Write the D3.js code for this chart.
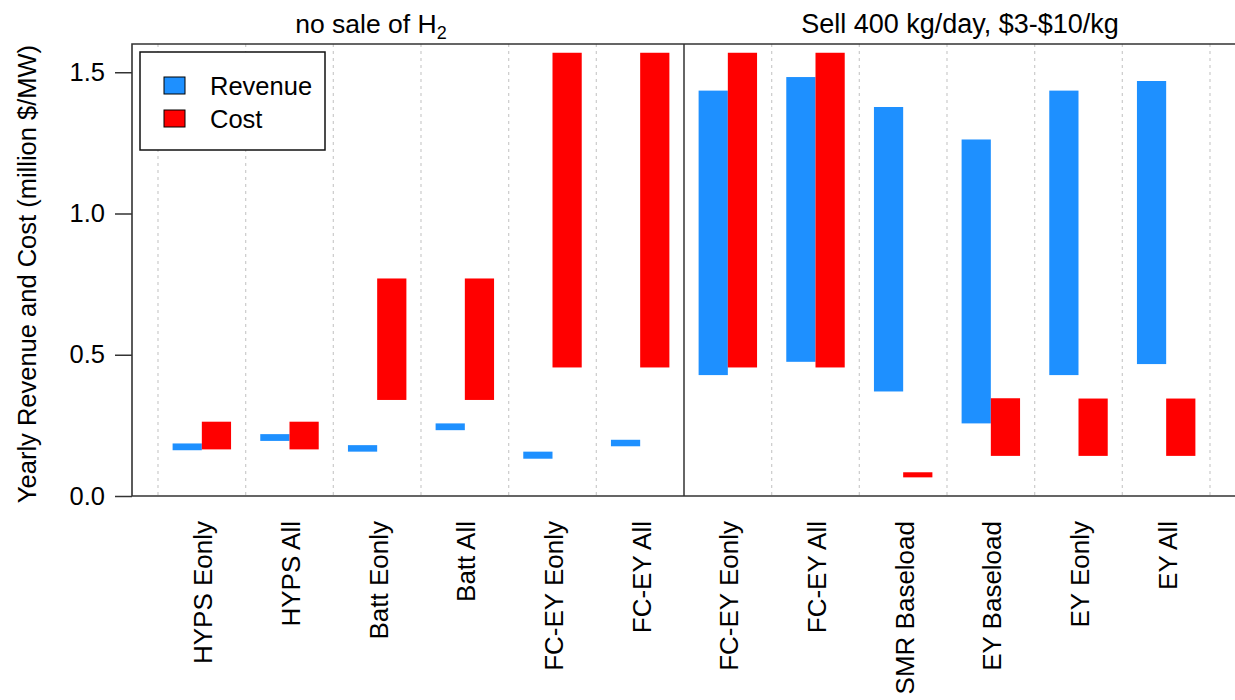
<!DOCTYPE html>
<html>
<head>
<meta charset="utf-8">
<script src="https://cdn.jsdelivr.net/npm/d3@7"></script>
<style>
  body { margin: 0; background: #fff; }
  svg { display: block; font-family: "Liberation Sans", Arial, sans-serif; }
</style>
</head>
<body>
<svg width="1235" height="700"></svg>
<script>
// scenario names, left 6 = no H2 sale, right 6 = selling H2
var categories = ["HYPS Eonly", "HYPS All", "Batt Eonly", "Batt All", "FC-EY Eonly", "FC-EY All",
                  "FC-EY Eonly", "FC-EY All", "SMR Baseload", "EY Baseload", "EY Eonly", "EY All"];

// floating bars: low / high end of each range (million $/MW)
var revenueLow  = [0.162, 0.195, 0.157, 0.233, 0.132, 0.176, 0.428, 0.475, 0.370, 0.257, 0.428, 0.467];
var revenueHigh = [0.186, 0.219, 0.180, 0.257, 0.157, 0.199, 1.435, 1.483, 1.377, 1.262, 1.435, 1.469];
var costLow     = [0.165, 0.165, 0.340, 0.340, 0.455, 0.455, 0.455, 0.455, 0.066, 0.142, 0.142, 0.142];
var costHigh    = [0.263, 0.263, 0.770, 0.770, 1.569, 1.569, 1.569, 1.569, 0.084, 0.346, 0.345, 0.345];

var yTicks = [0, 0.5, 1.0, 1.5];
var legendLabels = ["Revenue", "Cost"];
var colors = ["#1e90ff", "#ff0000"];

var svg = d3.select("svg"),
    margin = {top: 44, right: -1, bottom: 204, left: 132},
    width = +svg.attr("width") - margin.left - margin.right,
    height = +svg.attr("height") - margin.top - margin.bottom,
    pad = 26;   // space between box and first / last grid line

var g = svg.append("g").attr("transform", "translate(" + margin.left + "," + margin.top + ")");

var x = d3.scaleBand()
    .domain(d3.range(categories.length))
    .range([pad, width - pad])
    .padding(0);

var y = d3.scaleLinear()
    .domain([0, 1.6])
    .range([height, 0]);

var bw = x.bandwidth();
var split = categories.length / 2;

/*
 * grid lines on band edges, solid one between panels
 */
var edges = d3.range(categories.length + 1);
g.selectAll(".grid")
    .data(edges.filter(function(k) { return k != split; }))
    .enter().append("line")
    .attr("x1", function(k) { return pad + k * bw; })
    .attr("x2", function(k) { return pad + k * bw; })
    .attr("y1", 0)
    .attr("y2", height)
    .attr("stroke", "#cfcfcf")
    .attr("stroke-width", 1.3)
    .attr("stroke-dasharray", "3,4");

g.append("line")
    .attr("x1", pad + split * bw).attr("x2", pad + split * bw)
    .attr("y1", 0).attr("y2", height)
    .attr("stroke", "#333").attr("stroke-width", 1.5);

/*
 * bars
 */
var rows = categories.map(function(c, i) {
  return {i: i, rl: revenueLow[i], rh: revenueHigh[i], cl: costLow[i], ch: costHigh[i]};
});

g.selectAll(".rev")
    .data(rows)
    .enter().append("rect")
    .attr("x", function(d) { return x(d.i) + bw / 2 - bw / 3; })
    .attr("width", bw / 3)
    .attr("y", function(d) { return y(d.rh); })
    .attr("height", function(d) { return y(d.rl) - y(d.rh); })
    .attr("fill", colors[0]);

g.selectAll(".cost")
    .data(rows)
    .enter().append("rect")
    .attr("x", function(d) { return x(d.i) + bw / 2; })
    .attr("width", bw / 3)
    .attr("y", function(d) { return y(d.ch); })
    .attr("height", function(d) { return y(d.cl) - y(d.ch); })
    .attr("fill", colors[1]);

/*
 * box (left, top, bottom) and y axis
 */
g.append("path")
    .attr("d", "M" + width + ",0H0V" + height + "H" + width)
    .attr("fill", "none")
    .attr("stroke", "#333")
    .attr("stroke-width", 1.6);

var yAxis = g.append("g")
    .call(d3.axisLeft(y).tickValues(yTicks).tickSize(17).tickPadding(10).tickFormat(d3.format(".1f")));
yAxis.select(".domain").remove();
yAxis.selectAll("line").attr("stroke", "#333").attr("stroke-width", 1.5);
yAxis.selectAll("text")
    .attr("fill", "#000")
    .style("font-size", "25.5px")
    .style("font-family", "'Liberation Sans', Arial, sans-serif");

svg.append("text")
    .attr("transform", "translate(36," + (margin.top + height / 2 + 4) + ") rotate(-90)")
    .attr("text-anchor", "middle")
    .style("font-size", "25.5px")
    .text("Yearly Revenue and Cost (million $/MW)");

/*
 * category labels, vertical
 */
g.selectAll(".xlab")
    .data(rows)
    .enter().append("text")
    .attr("transform", function(d) {
      return "translate(" + (x(d.i) + bw / 2 + 1) + "," + (height + 25) + ") rotate(-90)";
    })
    .attr("text-anchor", "end")
    .attr("dy", "0.36em")
    .style("font-size", "26px")
    .text(function(d) { return categories[d.i]; });

/*
 * panel titles
 */
var t1 = svg.append("text")
    .attr("x", 371)
    .attr("y", 33)
    .attr("text-anchor", "middle")
    .style("font-size", "26.5px");
t1.append("tspan").text("no sale of H");
t1.append("tspan").attr("dy", 6).style("font-size", "18px").text("2");

svg.append("text")
    .attr("x", margin.left + pad + split * bw + (width - pad - split * bw) / 2)
    .attr("y", 33)
    .attr("text-anchor", "middle")
    .style("font-size", "27px")
    .text("Sell 400 kg/day, $3-$10/kg");

/*
 * legend
 */
var legend = svg.append("g").attr("transform", "translate(140,52)");
legend.append("rect")
    .attr("width", 185).attr("height", 98)
    .attr("fill", "#fff").attr("stroke", "#111").attr("stroke-width", 1.5);

var items = legend.selectAll(".item")
    .data(legendLabels)
    .enter().append("g")
    .attr("transform", function(d, i) { return "translate(24," + (25 + i * 33) + ")"; });

items.append("rect")
    .attr("width", 21).attr("height", 17)
    .attr("fill", function(d, i) { return colors[i]; })
    .attr("stroke", "#000").attr("stroke-width", 1);

items.append("text")
    .attr("x", 46)
    .attr("y", 9)
    .attr("dy", "0.36em")
    .style("font-size", "25.5px")
    .text(function(d) { return d; });
</script>
</body>
</html>
